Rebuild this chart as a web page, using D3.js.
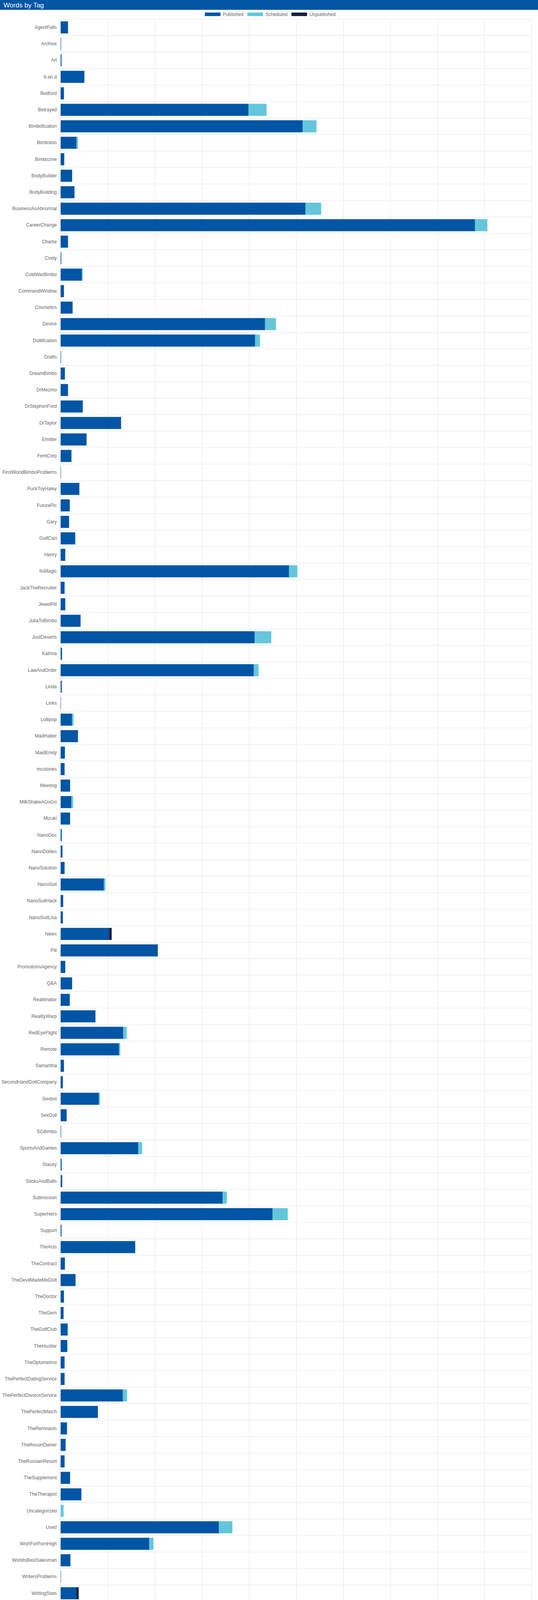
<!DOCTYPE html>
<html>
<head>
<meta charset="utf-8">
<script src="https://cdn.jsdelivr.net/npm/d3@7/dist/d3.min.js"></script>
<style>
  html, body { margin: 0; padding: 0; background: #fff; overflow: hidden; }
  svg { display: block; font-family: "Liberation Sans", Arial, Helvetica, sans-serif; }
</style>
</head>
<body>
<svg id="chart" width="1376" height="5538"></svg>
<script>
const categories = ["AgentFalls","Archive","Art","b.an.d","Bedford","Betrayed","Bimbofication","Bimboton","Bimbozine","BodyBuilder","BodyBuilding","BusinessAsAbnormal","CareerChange","Charlie","Cindy","ColdWarBimbo","CommandWindow","Cosmetics","Device","Dollification","Drafts","DreamBimbo","DrMezmo","DrStephenFord","DrTaylor","Emitter","FemCorp","FirstWorldBimboProblems","FuckToyHaley","FuturePic","Gary","GolfCart","Henry","ItsMagic","JackTheRecruiter","JewelPill","JuliaToBimbo","JustDeserts","Katrina","LawAndOrder","Linda","Links","Lollipop","MadHatter","MaidEmily","mcstories","Meeting","MilkShakeAGoGo","Mizuki","NanoDoc","NanoDollies","NanoSolution","NanoSuit","NanoSuitHack","NanoSuitLisa","News","Pill","PromotionsAgency","Q&A","Realitinator","RealityWarp","RedEyeFlight","Remote","Samantha","SecondHandDollCompany","Sexbot","SexDoll","SGBimbo","SportsAndGames","Stacey","SticksAndBalls","Submission","SuperHero","Support","TheActs","TheContract","TheDevilMadeMeDoIt","TheDoctor","TheGem","TheGolfClub","TheHustler","TheOptometrist","ThePerfectDatingService","ThePerfectDivorceService","ThePerfectMatch","TheRemnants","TheResortOwner","TheRussianResort","TheSupplement","TheTherapist","Uncategorized","Used","WishForPornHigh","WorldsBestSalesman","WritersProblems","WritingStats"];

const published = [1530,50,150,5000,660,39900,51400,3350,730,2400,2900,52000,88000,1530,100,4500,660,2500,43400,41300,50,870,1530,4660,12800,5470,2260,30,3940,1900,1750,3060,950,48500,800,950,4200,41200,250,41000,200,30,2400,3640,870,800,1970,2260,1970,200,350,800,9180,500,440,10300,20600,950,2400,1900,7360,13270,12390,660,440,8100,1240,50,16470,180,300,34400,45000,150,15800,870,3130,660,580,1460,1380,800,800,13200,7870,1310,1020,800,1970,4370,0,33600,18800,2040,30,3350];

const scheduled = [0,0,0,0,0,3800,2900,300,0,0,0,3300,2600,0,0,150,0,0,2300,1000,0,0,0,0,0,0,0,0,0,0,0,0,0,1750,0,0,0,3500,0,1000,0,0,300,0,0,0,0,360,0,0,0,0,300,0,0,0,0,0,0,0,0,730,220,0,0,220,0,0,800,0,0,870,3200,0,0,0,0,0,0,0,0,0,0,870,0,0,0,0,0,0,580,2840,870,0,0,0];

const unpublished = [0,0,0,0,0,0,0,0,0,0,0,0,0,0,0,0,0,0,0,0,0,0,0,0,0,0,0,0,0,0,0,0,0,0,0,0,0,0,0,0,0,0,0,0,0,0,0,0,0,0,0,0,0,0,0,500,0,0,0,0,0,0,0,0,0,0,0,0,0,0,0,0,0,0,0,0,0,0,0,0,0,0,0,0,0,0,0,0,0,0,0,0,0,0,0,440];

const seriesNames = ["Published","Scheduled","Unpublished"];
const seriesColors = ["#0055a5","#64c6db","#171e40"];
const xTicks = [0,10000,20000,30000,40000,50000,60000,70000,80000,90000,100000];

(function(){
const W = 1376, H0 = 5538;
// fit the whole chart into the height the window really offers
const avail = window.innerHeight || H0;
const k = Math.min(1, avail / H0);
const H = Math.floor(H0 * k);

const svg = d3.select("#chart").attr("height", H);

// header
const headerH = 34 * k;
svg.append("rect").attr("x",0).attr("y",0).attr("width",W).attr("height",headerH).attr("fill","#0055a5");
svg.append("text").attr("x",9).attr("y",headerH/2).attr("dy","0.35em").attr("fill","#fff")
  .style("font-size","17px").text("Words by Tag");

// plot geometry
const pLeft = 155.3, pRight = 1359.4;
const pTop = 66.3 * k, step = 57.05 * k;
const pBottom = pTop + step * categories.length;

const x = d3.scaleLinear().domain([0,100000]).range([pLeft,pRight]);
const y = d3.scaleBand().domain(categories).range([pTop,pBottom]).paddingInner(0.28).paddingOuter(0.14);

// vertical grid
const gx = svg.append("g").attr("transform",`translate(0,${pTop})`)
  .call(d3.axisBottom(x).tickValues(xTicks).tickSize(pBottom-pTop).tickFormat(""));
gx.select(".domain").remove();
gx.selectAll(".tick line").attr("stroke","rgba(0,0,0,0.1)").attr("stroke-width",1);

// horizontal boundary lines
const boundaries = d3.range(categories.length+1).map(i => pTop + i*step);
svg.append("g").selectAll("line").data(boundaries).join("line")
  .attr("x1",pLeft-8).attr("x2",pRight).attr("y1",d=>d).attr("y2",d=>d)
  .attr("stroke","rgba(0,0,0,0.1)").attr("stroke-width",1);

// y axis labels
const gy = svg.append("g").attr("transform",`translate(${pLeft},0)`)
  .call(d3.axisLeft(y).tickSize(0).tickPadding(10));
gy.select(".domain").remove();
gy.selectAll("text").attr("fill","#666").style("font-size","12px")
  .style("font-family","'Liberation Sans', Arial, sans-serif");

// stacked bars
const rows = categories.map((c,i)=>({cat:c, Published:published[i], Scheduled:scheduled[i], Unpublished:unpublished[i]}));
const stack = d3.stack().keys(seriesNames)(rows);

svg.append("g").selectAll("g").data(stack).join("g")
  .attr("fill",(d,i)=>seriesColors[i])
  .attr("stroke",(d,i)=>d3.color(seriesColors[i]).copy({opacity:0.5}))
  .attr("stroke-width",1)
  .selectAll("rect").data(d=>d.filter(v=>v[1]-v[0]>0)).join("rect")
  .attr("x",d=>x(d[0]))
  .attr("width",d=>x(d[1])-x(d[0]))
  .attr("y",d=>y(d.data.cat))
  .attr("height",y.bandwidth());

// legend
const legendY = 49.5 * k;
const boxH = Math.max(9, 12 * k);
const legend = svg.append("g");
const items = legend.selectAll("g").data(seriesNames).join("g");
items.append("rect").attr("width",40).attr("height",boxH).attr("y",legendY - boxH/2)
  .attr("fill",(d,i)=>seriesColors[i]);
items.append("text").attr("x",46).attr("y",legendY).attr("dy","0.35em").attr("fill","#666")
  .style("font-size","12px").text(d=>d);
const widths = [];
items.each(function(){ widths.push(this.getBBox().width); });
const total = d3.sum(widths) + 10*(widths.length-1);
let cx = 691 - total/2;
items.attr("transform",(d,i)=>{ const t = `translate(${cx},0)`; cx += widths[i]+10; return t; });
})();
</script>
</body>
</html>
